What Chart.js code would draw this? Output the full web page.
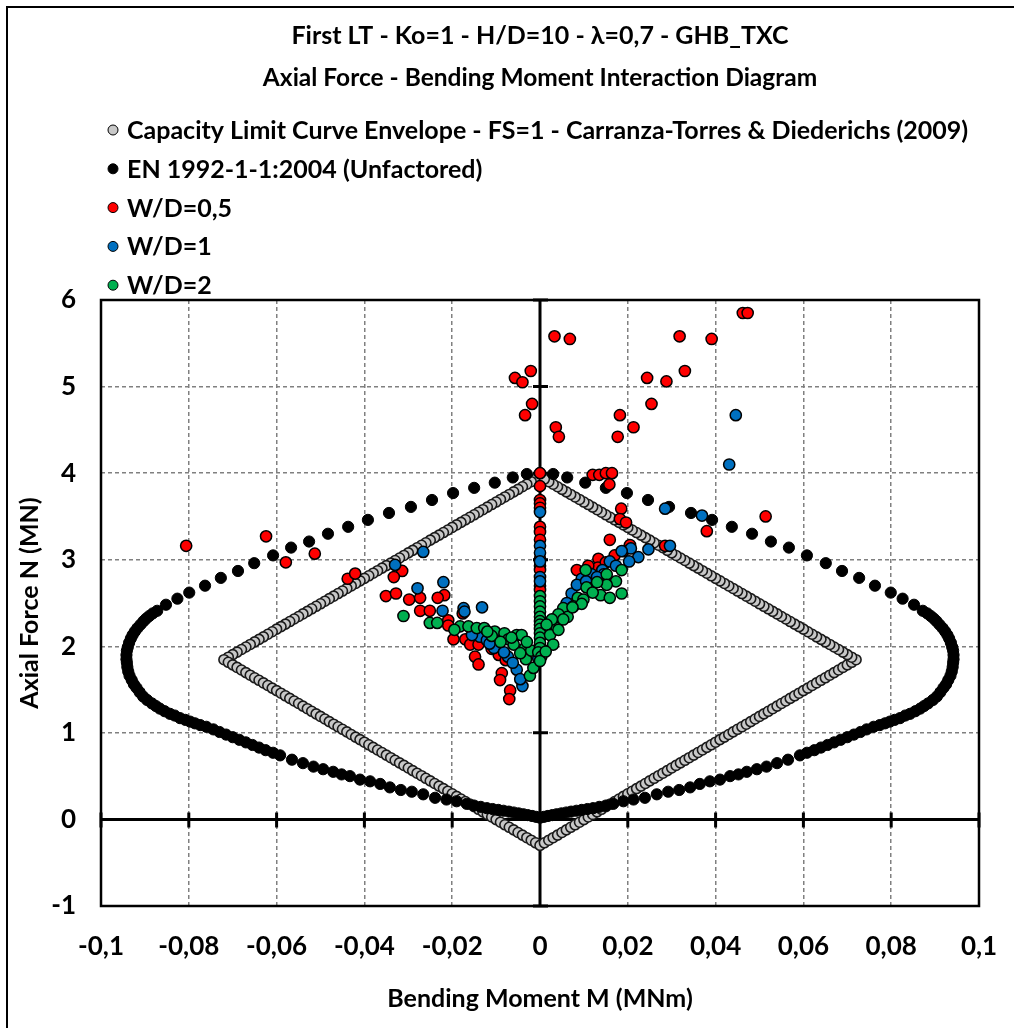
<!DOCTYPE html>
<html>
<head>
<meta charset="utf-8">
<title>Axial Force - Bending Moment Interaction Diagram</title>
<script src="https://cdn.jsdelivr.net/npm/chart.js@4.4.1/dist/chart.umd.min.js"></script>
<style>
  html, body { margin: 0; padding: 0; background: #fff; }
  canvas { display: block; }
</style>
</head>
<body>
<canvas id="interaction-chart" width="1014" height="1028"></canvas>
<script>
// Axis ticks (M in MNm, N in MN)
const mTicks = [-0.1, -0.08, -0.06, -0.04, -0.02, 0, 0.02, 0.04, 0.06, 0.08, 0.1];
const mTickLabels = ['-0,1', '-0,08', '-0,06', '-0,04', '-0,02', '0', '0,02', '0,04', '0,06', '0,08', '0,1'];
const nTicks = [-1, 0, 1, 2, 3, 4, 5, 6];
const nTickLabels = ['-1', '0', '1', '2', '3', '4', '5', '6'];

// Capacity limit curve, FS=1 (Carranza-Torres & Diederichs 2009), [M, N]
const capacityCurve = [
  [0,3.960],[-0.001,3.931],[-0.002,3.901],[-0.003,3.872],[-0.004,3.843],[-0.005,3.813],[-0.006,3.784],[-0.007,3.754],[-0.008,3.725],[-0.009,3.696],
  [-0.010,3.666],[-0.011,3.637],[-0.012,3.608],[-0.013,3.578],[-0.014,3.549],[-0.015,3.519],[-0.016,3.490],[-0.017,3.461],[-0.018,3.431],[-0.019,3.402],
  [-0.020,3.373],[-0.021,3.343],[-0.022,3.314],[-0.023,3.284],[-0.024,3.255],[-0.025,3.226],[-0.026,3.196],[-0.027,3.167],[-0.028,3.138],[-0.029,3.108],
  [-0.030,3.079],[-0.031,3.049],[-0.032,3.020],[-0.033,2.991],[-0.034,2.961],[-0.035,2.932],[-0.036,2.903],[-0.037,2.873],[-0.038,2.844],[-0.039,2.814],
  [-0.040,2.785],[-0.041,2.756],[-0.042,2.726],[-0.043,2.697],[-0.044,2.668],[-0.045,2.638],[-0.046,2.609],[-0.047,2.579],[-0.048,2.550],[-0.049,2.521],
  [-0.050,2.491],[-0.051,2.462],[-0.052,2.433],[-0.053,2.403],[-0.054,2.374],[-0.055,2.344],[-0.056,2.315],[-0.057,2.286],[-0.058,2.256],[-0.059,2.227],
  [-0.060,2.198],[-0.061,2.168],[-0.062,2.139],[-0.063,2.109],[-0.064,2.080],[-0.065,2.051],[-0.066,2.021],[-0.067,1.992],[-0.068,1.963],[-0.069,1.933],
  [-0.070,1.904],[-0.071,1.874],[-0.072,1.845],
  [-0.071,1.815],[-0.070,1.785],[-0.069,1.756],[-0.068,1.726],[-0.067,1.696],[-0.066,1.666],[-0.065,1.636],[-0.064,1.607],[-0.063,1.577],[-0.062,1.547],
  [-0.061,1.517],[-0.060,1.488],[-0.059,1.458],[-0.058,1.428],[-0.057,1.398],[-0.056,1.368],[-0.055,1.339],[-0.054,1.309],[-0.053,1.279],[-0.052,1.249],
  [-0.051,1.219],[-0.050,1.190],[-0.049,1.160],[-0.048,1.130],[-0.047,1.100],[-0.046,1.070],[-0.045,1.041],[-0.044,1.011],[-0.043,0.981],[-0.042,0.951],
  [-0.041,0.922],[-0.040,0.892],[-0.039,0.862],[-0.038,0.832],[-0.037,0.802],[-0.036,0.773],[-0.035,0.743],[-0.034,0.713],[-0.033,0.683],[-0.032,0.653],
  [-0.031,0.624],[-0.030,0.594],[-0.029,0.564],[-0.028,0.534],[-0.027,0.505],[-0.026,0.475],[-0.025,0.445],[-0.024,0.415],[-0.023,0.385],[-0.022,0.356],
  [-0.021,0.326],[-0.020,0.296],[-0.019,0.266],[-0.018,0.236],[-0.017,0.207],[-0.016,0.177],[-0.015,0.147],[-0.014,0.117],[-0.013,0.087],[-0.012,0.058],
  [-0.011,0.028],[-0.010,-0.002],[-0.009,-0.032],[-0.008,-0.062],[-0.007,-0.091],[-0.006,-0.121],[-0.005,-0.151],[-0.004,-0.181],[-0.003,-0.211],[-0.002,-0.240],
  [-0.001,-0.270],[0,-0.300],
  [0.001,-0.270],[0.002,-0.240],[0.003,-0.211],[0.004,-0.181],[0.005,-0.151],[0.006,-0.121],[0.007,-0.091],[0.008,-0.062],[0.009,-0.032],[0.010,-0.002],
  [0.011,0.028],[0.012,0.058],[0.013,0.087],[0.014,0.117],[0.015,0.147],[0.016,0.177],[0.017,0.207],[0.018,0.236],[0.019,0.266],[0.020,0.296],
  [0.021,0.326],[0.022,0.356],[0.023,0.385],[0.024,0.415],[0.025,0.445],[0.026,0.475],[0.027,0.505],[0.028,0.534],[0.029,0.564],[0.030,0.594],
  [0.031,0.624],[0.032,0.653],[0.033,0.683],[0.034,0.713],[0.035,0.743],[0.036,0.773],[0.037,0.802],[0.038,0.832],[0.039,0.862],[0.040,0.892],
  [0.041,0.922],[0.042,0.951],[0.043,0.981],[0.044,1.011],[0.045,1.041],[0.046,1.070],[0.047,1.100],[0.048,1.130],[0.049,1.160],[0.050,1.190],
  [0.051,1.219],[0.052,1.249],[0.053,1.279],[0.054,1.309],[0.055,1.339],[0.056,1.368],[0.057,1.398],[0.058,1.428],[0.059,1.458],[0.060,1.488],
  [0.061,1.517],[0.062,1.547],[0.063,1.577],[0.064,1.607],[0.065,1.636],[0.066,1.666],[0.067,1.696],[0.068,1.726],[0.069,1.756],[0.070,1.785],
  [0.071,1.815],[0.072,1.845],
  [0.071,1.874],[0.070,1.904],[0.069,1.933],[0.068,1.963],[0.067,1.992],[0.066,2.021],[0.065,2.051],[0.064,2.080],[0.063,2.109],[0.062,2.139],
  [0.061,2.168],[0.060,2.198],[0.059,2.227],[0.058,2.256],[0.057,2.286],[0.056,2.315],[0.055,2.344],[0.054,2.374],[0.053,2.403],[0.052,2.433],
  [0.051,2.462],[0.050,2.491],[0.049,2.521],[0.048,2.550],[0.047,2.579],[0.046,2.609],[0.045,2.638],[0.044,2.668],[0.043,2.697],[0.042,2.726],
  [0.041,2.756],[0.040,2.785],[0.039,2.814],[0.038,2.844],[0.037,2.873],[0.036,2.903],[0.035,2.932],[0.034,2.961],[0.033,2.991],[0.032,3.020],
  [0.031,3.049],[0.030,3.079],[0.029,3.108],[0.028,3.138],[0.027,3.167],[0.026,3.196],[0.025,3.226],[0.024,3.255],[0.023,3.284],[0.022,3.314],
  [0.021,3.343],[0.020,3.373],[0.019,3.402],[0.018,3.431],[0.017,3.461],[0.016,3.490],[0.015,3.519],[0.014,3.549],[0.013,3.578],[0.012,3.608],
  [0.011,3.637],[0.010,3.666],[0.009,3.696],[0.008,3.725],[0.007,3.754],[0.006,3.784],[0.005,3.813],[0.004,3.843],[0.003,3.872],[0.002,3.901],
  [0.001,3.931]
];

// EN 1992-1-1:2004 interaction curve, unfactored, [M, N]
const ecCurve = [
  [0,4.00],[-0.0030,3.99],[-0.0062,3.95],[-0.0103,3.89],[-0.0150,3.83],[-0.0198,3.77],[-0.0246,3.69],[-0.0294,3.61],[-0.0344,3.54],[-0.0392,3.46],
  [-0.0437,3.38],[-0.0483,3.30],[-0.0526,3.21],[-0.0567,3.14],[-0.0608,3.05],[-0.0651,2.96],[-0.0688,2.87],[-0.0727,2.79],[-0.0763,2.70],[-0.0799,2.62],
  [-0.0826,2.55],[-0.0852,2.48],[-0.0872,2.41],[-0.0882,2.38],[-0.0890,2.35],[-0.0897,2.32],[-0.0903,2.29],[-0.0910,2.25],[-0.0917,2.21],[-0.0923,2.17],
  [-0.0928,2.13],[-0.0932,2.09],[-0.0936,2.04],[-0.0939,1.99],[-0.0941,1.95],[-0.0942,1.90],[-0.0942,1.85],[-0.0941,1.81],[-0.0940,1.76],[-0.0938,1.71],
  [-0.0935,1.66],[-0.0930,1.61],[-0.0925,1.56],[-0.0919,1.52],[-0.0912,1.47],[-0.0904,1.42],[-0.0895,1.38],[-0.0884,1.34],[-0.0875,1.31],[-0.0866,1.28],
  [-0.0855,1.25],[-0.0843,1.22],[-0.0832,1.20],[-0.0820,1.17],[-0.0808,1.15],[-0.0797,1.13],[-0.0786,1.11],[-0.0774,1.09],[-0.0760,1.07],[-0.0744,1.04],
  [-0.0730,1.01],[-0.0715,0.98],[-0.0700,0.95],[-0.0685,0.92],[-0.0670,0.89],[-0.0655,0.86],[-0.0640,0.83],[-0.0625,0.80],[-0.0608,0.77],[-0.0592,0.74],
  [-0.0565,0.69],[-0.0540,0.65],[-0.0516,0.61],[-0.0494,0.58],[-0.0471,0.55],[-0.0452,0.52],[-0.0433,0.50],[-0.0410,0.46],[-0.0387,0.44],[-0.0364,0.41],
  [-0.0342,0.37],[-0.0317,0.34],[-0.0292,0.32],[-0.0266,0.29],[-0.0239,0.25],[-0.0213,0.23],[-0.0190,0.21],[-0.0167,0.18],[-0.0150,0.16],[-0.0135,0.145],
  [-0.0121,0.13],[-0.0108,0.12],[-0.0095,0.11],[-0.0083,0.10],[-0.0071,0.09],[-0.0060,0.08],[-0.0049,0.07],[-0.0038,0.06],[-0.0028,0.05],[-0.0018,0.04],
  [-0.0009,0.03],[0,0.02],
  [0.0030,3.99],[0.0062,3.95],[0.0103,3.89],[0.0150,3.83],[0.0198,3.77],[0.0246,3.69],[0.0294,3.61],[0.0344,3.54],[0.0392,3.46],
  [0.0437,3.38],[0.0483,3.30],[0.0526,3.21],[0.0567,3.14],[0.0608,3.05],[0.0651,2.96],[0.0688,2.87],[0.0727,2.79],[0.0763,2.70],[0.0799,2.62],
  [0.0826,2.55],[0.0852,2.48],[0.0872,2.41],[0.0882,2.38],[0.0890,2.35],[0.0897,2.32],[0.0903,2.29],[0.0910,2.25],[0.0917,2.21],[0.0923,2.17],
  [0.0928,2.13],[0.0932,2.09],[0.0936,2.04],[0.0939,1.99],[0.0941,1.95],[0.0942,1.90],[0.0942,1.85],[0.0941,1.81],[0.0940,1.76],[0.0938,1.71],
  [0.0935,1.66],[0.0930,1.61],[0.0925,1.56],[0.0919,1.52],[0.0912,1.47],[0.0904,1.42],[0.0895,1.38],[0.0884,1.34],[0.0875,1.31],[0.0866,1.28],
  [0.0855,1.25],[0.0843,1.22],[0.0832,1.20],[0.0820,1.17],[0.0808,1.15],[0.0797,1.13],[0.0786,1.11],[0.0774,1.09],[0.0760,1.07],[0.0744,1.04],
  [0.0730,1.01],[0.0715,0.98],[0.0700,0.95],[0.0685,0.92],[0.0670,0.89],[0.0655,0.86],[0.0640,0.83],[0.0625,0.80],[0.0608,0.77],[0.0592,0.74],
  [0.0565,0.69],[0.0540,0.65],[0.0516,0.61],[0.0494,0.58],[0.0471,0.55],[0.0452,0.52],[0.0433,0.50],[0.0410,0.46],[0.0387,0.44],[0.0364,0.41],
  [0.0342,0.37],[0.0317,0.34],[0.0292,0.32],[0.0266,0.29],[0.0239,0.25],[0.0213,0.23],[0.0190,0.21],[0.0167,0.18],[0.0150,0.16],[0.0135,0.145],
  [0.0121,0.13],[0.0108,0.12],[0.0095,0.11],[0.0083,0.10],[0.0071,0.09],[0.0060,0.08],[0.0049,0.07],[0.0038,0.06],[0.0028,0.05],[0.0018,0.04],
  [0.0009,0.03]
];

// Lining forces, W/D = 0,5
const wd05 = [
  [0.0033,5.58],[0.0068,5.55],[-0.0021,5.18],[-0.0057,5.10],[-0.0040,5.05],[-0.0018,4.80],[-0.0034,4.67],[0.0036,4.53],[0.0043,4.42],
  [0.0182,4.67],[0.0177,4.42],[0.0213,4.53],[0.0244,5.10],[0.0288,5.06],[0.0254,4.80],[0.0318,5.58],[0.0391,5.55],[0.0330,5.18],
  [0.0462,5.85],[0.0473,5.85],
  [0.0120,3.98],[0.0135,3.98],[0.0150,4.00],[0.0164,4.00],[0.0158,3.87],[0.0185,3.59],[0.0182,3.47],[0.0196,3.43],[0.0159,3.23],
  [0.0380,3.33],[0.0514,3.50],[0.0285,3.16],
  [-0.0806,3.16],[-0.0624,3.27],[-0.0579,2.97],[-0.0513,3.07],[-0.0438,2.78],[-0.0421,2.84],[-0.0314,2.87],[-0.0333,2.80],
  [-0.0351,2.58],[-0.0328,2.61],[-0.0298,2.54],[-0.0273,2.56],[-0.0218,2.59],[-0.0233,2.56],[-0.0273,2.41],[-0.0251,2.41],
  [-0.0209,2.30],[-0.0209,2.24],[-0.0176,2.38],[-0.0197,2.08],[-0.0170,2.08],[-0.0159,2.02],[-0.0140,2.02],[-0.0094,1.90],
  [-0.0148,1.88],[-0.0140,1.79],[-0.0087,1.69],[-0.0091,1.61],[-0.0068,1.49],[-0.0070,1.39],[-0.0110,1.97],[-0.0078,1.84],[-0.0120,2.10],
  [0,4.00],[0,3.85],[0,3.69],[0,3.65],[0,3.60],[0,3.38],[0,3.32],[0,3.23],[0,3.01],[0,2.93],[0,2.88],[0,2.70],[0,2.65],
  [0.0205,3.17],[0.0133,3.01],[0.0132,2.91],[0.0084,2.88],[0.0170,3.05],[0.0150,2.97],[0.0110,2.93],[0.0190,3.10]
];

// Lining forces, W/D = 1
const wd1 = [
  [0.0446,4.67],[0.0431,4.10],[0.0285,3.59],[0.0369,3.51],[0.0296,3.16],
  [-0.0266,3.09],[-0.0330,2.94],[-0.0279,2.67],[-0.0220,2.74],[-0.0222,2.41],[-0.0174,2.44],[-0.0172,2.40],[-0.0132,2.45],
  [-0.0137,2.11],[-0.0121,2.07],[-0.0094,2.00],[-0.0073,1.88],[-0.0053,1.73],[-0.0040,1.54],[-0.0155,2.13],[-0.0105,1.98],
  [-0.0082,1.93],[-0.0062,1.81],[-0.0045,1.62],[-0.0115,2.03],
  [0,3.55],[0,3.16],[0,3.08],[0,2.98],[0,2.80],[0,2.75],[-0.0004,1.86],
  [0.0207,3.13],[0.0186,3.10],[0.0247,3.12],[0.0224,3.03],[0.0203,2.98],[0.0159,2.98],[0.0173,2.93],[0.0142,2.88],
  [0.0095,2.78],[0.0118,2.83],[0.0145,2.83],[0.0072,2.61],[0.0061,2.50],[0.0084,2.71],[0.0046,2.34],[0.0023,2.15],
  [0.0105,2.75],[0.0130,2.80],[0.0055,2.42],[0.0035,2.25]
];

// Lining forces, W/D = 2
const wd2 = [
  [-0.0311,2.35],[-0.0251,2.27],[-0.0234,2.27],[-0.0182,2.23],[-0.0163,2.23],[-0.0144,2.21],[-0.0127,2.21],[-0.0103,2.17],
  [-0.0081,2.15],[-0.0072,2.08],[-0.0053,2.13],[-0.0042,2.13],[-0.0034,1.98],[-0.0032,1.85],[-0.0023,1.66],[-0.0110,2.12],
  [-0.0090,2.05],[-0.0060,2.02],[-0.0045,1.92],[-0.0020,1.95],[-0.0195,2.19],[-0.0120,2.17],[-0.0065,2.10],[-0.0030,2.05],[-0.0015,1.75],
  [0,2.58],[0,2.52],[0,2.46],[0,2.40],[0,2.34],[0,2.29],[0,2.25],[0,2.20],[0,2.15],[0,2.10],[0,2.04],[0,1.98],
  [-0.0004,1.93],[0.0003,1.88],[0,1.83],
  [0.0104,2.88],[0.0186,2.88],[0.0173,2.75],[0.0152,2.83],[0.0114,2.67],[0.0138,2.59],[0.0159,2.56],[0.0186,2.61],
  [0.0152,2.71],[0.0086,2.56],[0.0099,2.54],[0.0076,2.46],[0.0053,2.44],[0.0063,2.34],[0.0042,2.37],[0.0038,2.21],
  [0.0027,2.31],[0.0015,2.25],[0.0023,2.13],[0.0030,2.02],[0.0013,1.94],[0.0106,2.68],[0.0095,2.49],[0.0074,2.45],
  [0.0053,2.31],[0.0042,2.19],[0.0120,2.62],[0.0130,2.74]
];

const FONT = 'Lato, "DejaVu Sans", sans-serif';
Chart.defaults.font.family = FONT;
Chart.defaults.font.weight = 'bold';
Chart.defaults.color = '#000';

const toXY = pts => pts.map(([m, n]) => ({ x: m, y: n }));

// Excel-style frame, zero axes crossing at the origin with cross tick marks
const crossAxes = {
  id: 'crossAxes',
  beforeDraw(chart) {
    const { ctx, width, height } = chart;
    ctx.save();
    ctx.fillStyle = '#fff';
    ctx.fillRect(0, 0, width, height);
    ctx.strokeStyle = '#000';
    ctx.lineWidth = 2;
    ctx.beginPath();
    ctx.moveTo(7, height);
    ctx.lineTo(7, 7);
    ctx.lineTo(width, 7);
    ctx.stroke();
    ctx.restore();
  },
  beforeDatasetsDraw(chart) {
    const { ctx, chartArea: a, scales: { x, y } } = chart;
    const x0 = x.getPixelForValue(0);
    const y0 = y.getPixelForValue(0);
    ctx.save();
    ctx.strokeStyle = '#000';
    ctx.lineWidth = 2.5;
    ctx.strokeRect(a.left, a.top, a.right - a.left, a.bottom - a.top);
    ctx.lineWidth = 3;
    ctx.beginPath();
    ctx.moveTo(a.left, y0);
    ctx.lineTo(a.right, y0);
    ctx.moveTo(x0, a.top);
    ctx.lineTo(x0, a.bottom);
    x.ticks.forEach(t => {
      const px = x.getPixelForValue(t.value);
      ctx.moveTo(px, y0 - 7);
      ctx.lineTo(px, y0 + 8);
    });
    y.ticks.forEach(t => {
      const py = y.getPixelForValue(t.value);
      ctx.moveTo(x0 - 7, py);
      ctx.lineTo(x0 + 8, py);
    });
    ctx.stroke();
    ctx.restore();
  }
};

// One legend entry per line, stacked above the plot
const stackedLegend = {
  id: 'stackedLegend',
  afterDraw(chart) {
    const { ctx, chartArea } = chart;
    ctx.save();
    ctx.font = 'bold 25px ' + FONT;
    ctx.textBaseline = 'middle';
    chart.data.datasets.forEach((ds, i) => {
      const yPos = chartArea.top - 170 + i * 38.8;
      ctx.beginPath();
      ctx.arc(113, yPos, 5, 0, Math.PI * 2);
      ctx.fillStyle = ds.backgroundColor;
      ctx.fill();
      ctx.lineWidth = 1;
      ctx.strokeStyle = '#000';
      ctx.stroke();
      ctx.fillStyle = '#000';
      ctx.fillText(ds.label, 127, yPos + 1);
    });
    ctx.restore();
  }
};

const gridStyle = {
  color: '#808080',
  lineWidth: 1.5,
  tickLength: 22,
  tickColor: 'rgba(0,0,0,0)'
};

const ctx = document.getElementById('interaction-chart').getContext('2d');
new Chart(ctx, {
  type: 'scatter',
  data: {
    datasets: [
      {
        label: 'Capacity Limit Curve Envelope - FS=1 - Carranza-Torres & Diederichs (2009)',
        data: toXY(capacityCurve),
        backgroundColor: '#c8c8c8',
        borderColor: '#1a1a1a',
        borderWidth: 1.6,
        pointRadius: 5,
        order: 5
      },
      {
        label: 'EN 1992-1-1:2004 (Unfactored)',
        data: toXY(ecCurve),
        backgroundColor: '#000',
        borderColor: '#000',
        borderWidth: 1,
        pointRadius: 5.6,
        order: 4
      },
      {
        label: 'W/D=0,5',
        data: toXY(wd05),
        backgroundColor: '#ff0000',
        borderColor: '#000',
        borderWidth: 1.5,
        pointRadius: 5.6,
        order: 3
      },
      {
        label: 'W/D=1',
        data: toXY(wd1),
        backgroundColor: '#0070c0',
        borderColor: '#000',
        borderWidth: 1.5,
        pointRadius: 5.6,
        order: 2
      },
      {
        label: 'W/D=2',
        data: toXY(wd2),
        backgroundColor: '#00b050',
        borderColor: '#000',
        borderWidth: 1.5,
        pointRadius: 5.6,
        order: 1
      }
    ]
  },
  options: {
    responsive: false,
    animation: false,
    events: [],
    layout: { padding: { left: 0, right: 35, top: 0, bottom: 0 } },
    plugins: {
      legend: { display: false },
      tooltip: { enabled: false },
      title: {
        display: true,
        text: 'First LT - Ko=1 - H/D=10 - λ=0,7 - GHB_TXC',
        fullSize: false,
        font: { size: 25, weight: 'bold' },
        padding: { top: 21, bottom: 0 }
      },
      subtitle: {
        display: true,
        text: 'Axial Force - Bending Moment Interaction Diagram',
        fullSize: false,
        color: '#000',
        font: { size: 24.5, weight: 'bold' },
        padding: { top: 12, bottom: 207.6 }
      }
    },
    scales: {
      x: {
        type: 'linear',
        min: -0.1,
        max: 0.1,
        afterBuildTicks: scale => { scale.ticks = mTicks.map(v => ({ value: v })); },
        afterFit: scale => { scale.height = 122; },
        ticks: {
          padding: 3,
          font: { size: 26, weight: 'bold' },
          callback: (v, i) => mTickLabels[i]
        },
        grid: gridStyle,
        border: { display: false, dash: [4, 3] },
        title: {
          display: true,
          text: 'Bending Moment M (MNm)',
          font: { size: 25, weight: 'bold' },
          padding: { top: 0, bottom: 14 }
        }
      },
      y: {
        type: 'linear',
        min: -1,
        max: 6,
        afterBuildTicks: scale => { scale.ticks = nTicks.map(v => ({ value: v })); },
        afterFit: scale => { scale.width = 101; },
        ticks: {
          padding: 3,
          font: { size: 26, weight: 'bold' },
          callback: (v, i) => nTickLabels[i]
        },
        grid: gridStyle,
        border: { display: false, dash: [4, 3] },
        title: {
          display: true,
          text: 'Axial Force N (MN)',
          font: { size: 25, weight: 'bold' },
          padding: { top: 15, bottom: 0 }
        }
      }
    }
  },
  plugins: [crossAxes, stackedLegend]
});
</script>
</body>
</html>
